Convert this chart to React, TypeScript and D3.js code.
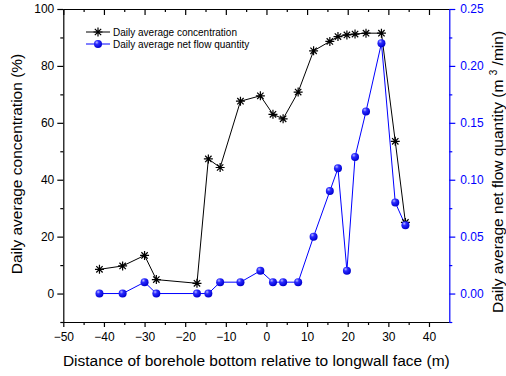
import React, { useEffect, useRef } from 'react';
import * as d3 from 'd3';

// distance of borehole bottom relative to longwall face (m)
const distance = [-41.1, -35.4, -30.0, -27.1, -17.1, -14.3, -11.4, -6.4, -1.5, 1.6, 4.1, 7.8, 11.6, 15.6, 17.6, 19.8, 21.8, 24.5, 28.3, 31.7, 34.2];
// daily average concentration (%)
const concentration = [8.5, 9.7, 13.4, 4.9, 3.6, 47.3, 44.3, 67.6, 69.5, 63.0, 61.4, 70.8, 85.3, 88.6, 90.3, 90.9, 91.2, 91.5, 91.5, 53.5, 25.0];
// daily average net flow quantity (m3/min)
const flow = [0, 0, 0.01, 0, 0, 0, 0.01, 0.01, 0.02, 0.01, 0.01, 0.01, 0.05, 0.09, 0.11, 0.02, 0.12, 0.16, 0.22, 0.08, 0.06];

const xTicks = [-50, -40, -30, -20, -10, 0, 10, 20, 30, 40];
const leftTicks = [0, 20, 40, 60, 80, 100];
const rightTicks = [0, 0.05, 0.1, 0.15, 0.2, 0.25];

const width = 506;
const height = 376;
const margin = { top: 9, right: 56.7, bottom: 54, left: 63.3 };
const font = 'Liberation Sans, Arial, sans-serif';
const BLUE = '#0000ff';

const App = () => {
    const svgRef = useRef<SVGSVGElement>(null);

    useEffect(() => {
        const svg = d3.select(svgRef.current);
        svg.selectAll('*').remove();

        const x0 = margin.left;
        const x1 = width - margin.right;
        const y0 = height - margin.bottom;
        const y1 = margin.top;

        const x = d3.scaleLinear().domain([-50, 45]).range([x0, x1]);
        const yL = d3.scaleLinear().domain([-10, 100]).range([y0, y1]);
        const yR = d3.scaleLinear().domain([-0.025, 0.25]).range([y0, y1]);

        const defs = svg.append('defs');
        const grad = defs.append('radialGradient')
            .attr('id', 'ball').attr('cx', '35%').attr('cy', '30%').attr('r', '70%');
        grad.append('stop').attr('offset', '0%').attr('stop-color', '#b8b8ff');
        grad.append('stop').attr('offset', '35%').attr('stop-color', '#2a2aff');
        grad.append('stop').attr('offset', '100%').attr('stop-color', '#0000d0');

        // bottom axis
        const bottom = svg.append('g').attr('transform', `translate(0,${y0})`)
            .call(d3.axisBottom(x).tickValues(xTicks).tickFormat(d3.format('d')).tickSize(5).tickSizeOuter(0));
        svg.append('g').attr('transform', `translate(0,${y0})`)
            .call(d3.axisBottom(x).tickValues(d3.range(-45, 45, 10)).tickFormat(() => '').tickSize(3).tickSizeOuter(0))
            .select('.domain').remove();
        bottom.selectAll('text').attr('dy', '0.9em');

        // top axis (ticks pointing inward)
        svg.append('g').attr('transform', `translate(0,${y1})`)
            .call(d3.axisBottom(x).tickValues(xTicks).tickFormat(() => '').tickSize(6).tickSizeOuter(0));
        svg.append('g').attr('transform', `translate(0,${y1})`)
            .call(d3.axisBottom(x).tickValues(d3.range(-45, 45, 10)).tickFormat(() => '').tickSize(3).tickSizeOuter(0))
            .select('.domain').remove();

        // left axis
        svg.append('g').attr('transform', `translate(${x0},0)`)
            .call(d3.axisLeft(yL).tickValues(leftTicks).tickSize(6).tickSizeOuter(0));
        svg.append('g').attr('transform', `translate(${x0},0)`)
            .call(d3.axisLeft(yL).tickValues(d3.range(-10, 100, 20)).tickFormat(() => '').tickSize(3).tickSizeOuter(0))
            .select('.domain').remove();

        // right axis
        const right = svg.append('g').attr('transform', `translate(${x1},0)`)
            .call(d3.axisRight(yR).tickValues(rightTicks).tickFormat(d3.format('.2f')).tickSize(6).tickSizeOuter(0));
        const rightMinor = svg.append('g').attr('transform', `translate(${x1},0)`)
            .call(d3.axisRight(yR).tickValues(d3.range(-0.025, 0.25, 0.05)).tickFormat(() => '').tickSize(3).tickSizeOuter(0));
        rightMinor.select('.domain').remove();
        svg.selectAll('.tick text').attr('font-family', font).attr('font-size', 12).attr('fill', '#000');
        right.selectAll('text').attr('fill', BLUE).attr('dx', '2');
        right.selectAll('line, path').attr('stroke', BLUE);
        rightMinor.selectAll('line').attr('stroke', BLUE);
        svg.selectAll('path.domain, .tick line').attr('stroke-width', 1.2);

        // concentration series
        const lineL = d3.line<number>().x((_, i) => x(distance[i])).y(d => yL(d));
        svg.append('path').datum(concentration).attr('d', lineL)
            .attr('fill', 'none').attr('stroke', '#000').attr('stroke-width', 1);

        // flow series
        const lineR = d3.line<number>().x((_, i) => x(distance[i])).y(d => yR(d));
        svg.append('path').datum(flow).attr('d', lineR)
            .attr('fill', 'none').attr('stroke', BLUE).attr('stroke-width', 1);

        const star = (g, cx, cy, r) => {
            const d = r * Math.SQRT1_2;
            g.append('path')
                .attr('d', `M${cx - r},${cy}H${cx + r}M${cx},${cy - r}V${cy + r}M${cx - d},${cy - d}L${cx + d},${cy + d}M${cx - d},${cy + d}L${cx + d},${cy - d}`)
                .attr('stroke', '#000').attr('stroke-width', 1.2).attr('fill', 'none');
        };

        const stars = svg.append('g');
        concentration.forEach((v, i) => star(stars, x(distance[i]), yL(v), 4.5));

        svg.append('g').selectAll('circle').data(flow).join('circle')
            .attr('cx', (_, i) => x(distance[i])).attr('cy', d => yR(d)).attr('r', 4)
            .attr('fill', 'url(#ball)');

        // legend
        const lg = svg.append('g').attr('font-family', font).attr('font-size', 10);
        lg.append('line').attr('x1', 86).attr('x2', 110).attr('y1', 32).attr('y2', 32).attr('stroke', '#000');
        star(lg, 98, 32, 4.5);
        lg.append('text').attr('x', 113).attr('y', 32).attr('dy', '0.35em').text('Daily average concentration');
        lg.append('line').attr('x1', 86).attr('x2', 110).attr('y1', 44).attr('y2', 44).attr('stroke', BLUE);
        lg.append('circle').attr('cx', 98).attr('cy', 44).attr('r', 4).attr('fill', 'url(#ball)');
        lg.append('text').attr('x', 113).attr('y', 44).attr('dy', '0.35em').text('Daily average net flow quantity');

        // axis titles
        svg.append('text').attr('x', (x0 + x1) / 2).attr('y', 366)
            .attr('text-anchor', 'middle').attr('font-family', font).attr('font-size', 15.5)
            .text('Distance of borehole bottom relative to longwall face (m)');
        svg.append('text').attr('transform', `translate(22,164) rotate(-90)`)
            .attr('text-anchor', 'middle').attr('font-family', font).attr('font-size', 15.5)
            .text('Daily average concentration (%)');
        const rt = svg.append('text').attr('transform', `translate(503,172) rotate(-90)`)
            .attr('text-anchor', 'middle').attr('font-family', font).attr('font-size', 15.5);
        rt.append('tspan').text('Daily average net flow quantity (m ');
        rt.append('tspan').attr('font-size', 10).attr('dy', -6).text('3');
        rt.append('tspan').attr('dy', 6).text(' /min)');
    }, []);

    return <svg ref={svgRef} width={width} height={height} style={{ position: 'absolute', left: 0, top: 0 }}></svg>;
};

export default App;
